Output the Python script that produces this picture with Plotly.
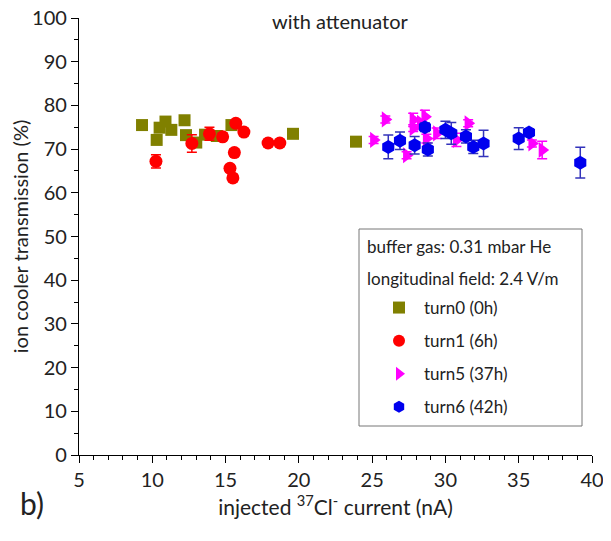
import plotly.graph_objects as go

# turn0 (0h)
t0_x = [9.3, 10.3, 10.5, 10.9, 11.3, 12.2, 12.3, 13.0, 13.6, 14.4, 15.4, 19.6, 23.9]
t0_y = [75.5, 72.1, 74.9, 76.3, 74.4, 76.6, 73.2, 71.5, 73.3, 73.0, 75.5, 73.5, 71.7]

# turn1 (6h)
t1_x = [10.25, 12.7, 13.9, 14.8, 15.7, 16.25, 15.6, 15.3, 15.5, 17.9, 18.7]
t1_y = [67.2, 71.3, 73.5, 72.8, 75.9, 73.9, 69.2, 65.6, 63.4, 71.4, 71.4]
t1_e = [1.5, 2.0, 1.5, 0.8, 0.8, 0.8, 0.8, 0.8, 0.8, 0.8, 0.8]

# turn5 (37h)
t5_x = [25.1, 25.9, 27.35, 27.8, 27.8, 28.3, 28.6, 28.7, 29.4, 30.75, 31.55, 35.9, 36.6]
t5_y = [72.1, 76.8, 68.6, 76.7, 74.8, 76.0, 77.4, 72.4, 73.6, 72.1, 75.9, 71.3, 69.8]
t5_e = [0.8, 0.8, 0.8, 1.5, 0.8, 0.8, 1.5, 1.0, 1.2, 1.5, 0.8, 0.8, 2.0]

# turn6 (42h)
t6_x = [26.1, 26.9, 27.9, 28.6, 28.8, 30.0, 30.4, 31.4, 31.9, 32.6, 35.0, 35.7, 39.2]
t6_y = [70.5, 71.9, 70.9, 75.0, 69.9, 74.4, 73.6, 72.9, 70.5, 71.3, 72.4, 73.8, 66.9]
t6_e = [2.7, 2.0, 2.0, 1.0, 1.5, 2.0, 2.5, 1.5, 1.5, 3.0, 2.5, 0.8, 3.5]

FONT = "Lato"
TXT = "#222"

# page body has an 8px margin; work in screen pixels and shift
OFF = 8
FIG_W, FIG_H = 611 - OFF, 541 - OFF
# plot area in screen pixels (left, right, top, bottom)
L, R, T, B = 79, 592, 18, 455
W, H = R - L, B - T

def px(x):
    return (x - L) / W

def py(y):
    return (B - y) / H

fig = go.Figure()

def err(vals, color):
    return dict(type="data", array=vals, color=color, thickness=1.5, width=5)

fig.add_trace(go.Scatter(x=t0_x, y=t0_y, mode="markers", name="turn0 (0h)", legendgroup="a",
                         marker=dict(symbol="square", size=12, color="#808000")))
fig.add_trace(go.Scatter(x=t1_x, y=t1_y, mode="markers", name="turn1 (6h)", legendgroup="b",
                         marker=dict(symbol="circle", size=13, color="#FF0000"),
                         error_y=err(t1_e, "#FF0000")))
fig.add_trace(go.Scatter(x=t5_x, y=t5_y, mode="markers", name="turn5 (37h)", legendgroup="c",
                         marker=dict(symbol="triangle-right", size=14, color="#FF00FF"),
                         error_y=err(t5_e, "#FF00FF")))
fig.add_trace(go.Scatter(x=t6_x, y=t6_y, mode="markers", name="turn6 (42h)", legendgroup="d",
                         marker=dict(symbol="hexagon", size=14, color="#0000EE"),
                         error_y=err(t6_e, "#3333BB")))

axis_common = dict(showline=True, linecolor="black", linewidth=1.2, ticks="outside",
                   ticklen=7, tickcolor="black", showgrid=False, zeroline=False,
                   automargin=False, ticklabeloverflow="allow",
                   tickfont=dict(family=FONT, size=20, color=TXT))

fig.update_xaxes(range=[5, 40], dtick=5, tick0=5,
                 minor=dict(ticks="outside", dtick=1, ticklen=4, tickcolor="black"),
                 title=dict(text="injected <sup>37</sup>Cl<sup>-</sup> current (nA)",
                            font=dict(family=FONT, size=21, color=TXT), standoff=10),
                 **axis_common)
fig.update_yaxes(range=[0, 100], dtick=10,
                 minor=dict(ticks="outside", dtick=5, ticklen=4, tickcolor="black"),
                 title=dict(text="ion cooler transmission (%)",
                            font=dict(family=FONT, size=20, color=TXT), standoff=8),
                 **axis_common)

fig.add_shape(type="rect", xref="paper", yref="paper",
              x0=px(359), x1=px(582), y0=py(426), y1=py(229),
              line=dict(color="#777", width=1), fillcolor="white", layer="below")

fig.add_annotation(text="buffer gas: 0.31 mbar He", xref="paper", yref="paper",
                   x=px(365), y=py(246), xanchor="left", yanchor="middle",
                   showarrow=False, font=dict(family=FONT, size=17, color=TXT))
fig.add_annotation(text="longitudinal field: 2.4 V/m", xref="paper", yref="paper",
                   x=px(365), y=py(278), xanchor="left", yanchor="middle",
                   showarrow=False, font=dict(family=FONT, size=17, color=TXT))
fig.add_annotation(text="with attenuator", xref="paper", yref="paper",
                   x=px(340), y=py(21), xanchor="center", yanchor="middle",
                   showarrow=False, font=dict(family=FONT, size=20, color=TXT))
fig.add_annotation(text="b)", xref="paper", yref="paper",
                   x=px(18), y=py(503), xanchor="left", yanchor="middle",
                   showarrow=False, font=dict(family=FONT, size=30, color=TXT))

fig.update_layout(
    width=FIG_W, height=FIG_H,
    margin=dict(l=L - OFF, r=611 - R, t=T - OFF, b=541 - B),
    plot_bgcolor="white", paper_bgcolor="white",
    font=dict(family=FONT, size=17, color=TXT),
    legend=dict(x=px(374), y=py(290), xanchor="left", yanchor="top",
                bgcolor="rgba(0,0,0,0)", borderwidth=0, tracegroupgap=8,
                itemwidth=40, itemsizing="constant",
                font=dict(family=FONT, size=17, color=TXT)),
    showlegend=True,
)

fig.write_html("out.html")
